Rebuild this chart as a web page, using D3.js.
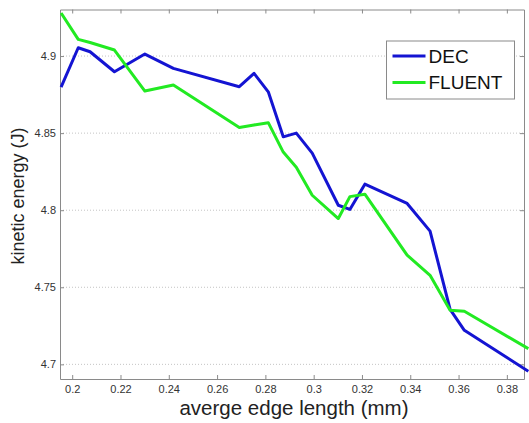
<!DOCTYPE html>
<html>
<head>
<meta charset="utf-8">
<script src="https://cdn.jsdelivr.net/npm/d3@7"></script>
<style>
  body { margin: 0; background: #fff; }
  svg { display: block; font-family: "Liberation Sans", Arial, sans-serif; }
  .axis path, .axis line { stroke: #8a8a8a; }
  .axis text { fill: #333; font-size: 11px; }
</style>
</head>
<body>
<div class="chart"></div>
<script>
// DATA
const edgeLength = [0.1954, 0.2025, 0.2074, 0.2175, 0.2301, 0.2419, 0.2692, 0.2753, 0.2812, 0.2874,
                    0.2928, 0.2994, 0.3102, 0.3150, 0.3212, 0.3387, 0.3482, 0.3565, 0.3624, 0.3889];
const decValues = [4.8799, 4.9054, 4.9028, 4.8898, 4.9013, 4.8920, 4.8801, 4.8888, 4.8768, 4.8476,
                   4.8500, 4.8370, 4.8032, 4.8005, 4.8169, 4.8044, 4.7864, 4.7357, 4.7221, 4.6955];
const fluentValues = [4.9279, 4.9108, 4.9088, 4.9039, 4.8773, 4.8812, 4.8537, 4.8553, 4.8568, 4.8377,
                      4.8279, 4.8097, 4.7946, 4.8088, 4.8104, 4.7708, 4.7578, 4.7351, 4.7344, 4.7102];
const seriesNames = ["DEC", "FLUENT"];
const xTicks = [0.2, 0.22, 0.24, 0.26, 0.28, 0.3, 0.32, 0.34, 0.36, 0.38];
const yTicks = [4.7, 4.75, 4.8, 4.85, 4.9];

// GLOBAL CONSTANTS
const FRAME_WIDTH = 529;
const FRAME_HEIGHT = 423;
const MARGINS = {left: 60, right: 5, top: 9.5, bottom: 44};
const GRAPH_WIDTH = FRAME_WIDTH - MARGINS.left - MARGINS.right;
const GRAPH_HEIGHT = FRAME_HEIGHT - MARGINS.top - MARGINS.bottom;
const COLORS = ["#1414d2", "#22ea22"];

const FRAME = d3.select(".chart")
  .append("svg")
    .attr("width", FRAME_WIDTH)
    .attr("height", FRAME_HEIGHT);

const G = FRAME.append("g")
    .attr("transform", "translate(" + MARGINS.left + "," + MARGINS.top + ")");

const X_SCALE = d3.scaleLinear()
    .domain([0.19495, 0.3871])
    .range([0, GRAPH_WIDTH]);

const Y_SCALE = d3.scaleLinear()
    .domain([4.6905, 4.9302])
    .range([GRAPH_HEIGHT, 0]);

const fmt = d3.format("~g");

// grid lines (horizontal, dotted)
G.append("g")
  .selectAll("line")
  .data(yTicks)
  .enter()
  .append("line")
    .attr("x1", 0)
    .attr("x2", GRAPH_WIDTH)
    .attr("y1", d => Y_SCALE(d))
    .attr("y2", d => Y_SCALE(d))
    .attr("stroke", "#c4c4c4")
    .attr("stroke-width", 1)
    .attr("stroke-dasharray", "1,2");

// AXES
G.append("g")
    .attr("class", "axis")
    .attr("transform", "translate(0," + GRAPH_HEIGHT + ")")
    .call(d3.axisBottom(X_SCALE).tickValues(xTicks).tickFormat(fmt).tickSize(-4).tickPadding(6).tickSizeOuter(0));

G.append("g")
    .attr("class", "axis")
    .call(d3.axisTop(X_SCALE).tickValues(xTicks).tickFormat("").tickSize(-4).tickSizeOuter(0));

G.append("g")
    .attr("class", "axis")
    .call(d3.axisLeft(Y_SCALE).tickValues(yTicks).tickFormat(fmt).tickSize(-4).tickPadding(4).tickSizeOuter(0));

G.append("g")
    .attr("class", "axis")
    .attr("transform", "translate(" + GRAPH_WIDTH + ",0)")
    .call(d3.axisRight(Y_SCALE).tickValues(yTicks).tickFormat("").tickSize(-4).tickSizeOuter(0));

// LINES
const series = [decValues, fluentValues];
const line = d3.line()
    .x((d, i) => X_SCALE(edgeLength[i]))
    .y(d => Y_SCALE(d));

G.selectAll(".series")
  .data(series)
  .enter()
  .append("path")
    .attr("class", "series")
    .attr("d", d => line(d))
    .attr("fill", "none")
    .attr("stroke", (d, i) => COLORS[i])
    .attr("stroke-width", 3)
    .attr("stroke-linejoin", "round");

// LEGEND
const LEGEND = G.append("g")
    .attr("transform", "translate(" + (386.5 - MARGINS.left) + "," + (41 - MARGINS.top) + ")");

LEGEND.append("rect")
    .attr("width", 128)
    .attr("height", 58)
    .attr("fill", "#fff")
    .attr("stroke", "#8a8a8a");

seriesNames.forEach((name, i) => {
  LEGEND.append("line")
      .attr("x1", 6).attr("x2", 39)
      .attr("y1", 15 + i * 26.5).attr("y2", 15 + i * 26.5)
      .attr("stroke", COLORS[i])
      .attr("stroke-width", 3);
  LEGEND.append("text")
      .attr("x", 42)
      .attr("y", 15 + i * 26.5)
      .attr("dy", "0.36em")
      .attr("font-size", "19px")
      .attr("fill", "#111")
      .text(name);
});

// AXIS LABELS
FRAME.append("text")
    .attr("x", 294)
    .attr("y", 415)
    .attr("text-anchor", "middle")
    .attr("font-size", "20.5px")
    .attr("fill", "#222")
    .text("averge edge length (mm)");

FRAME.append("text")
    .attr("transform", "translate(24,196) rotate(-90)")
    .attr("text-anchor", "middle")
    .attr("font-size", "18px")
    .attr("fill", "#222")
    .text("kinetic energy (J)");
</script>
</body>
</html>
